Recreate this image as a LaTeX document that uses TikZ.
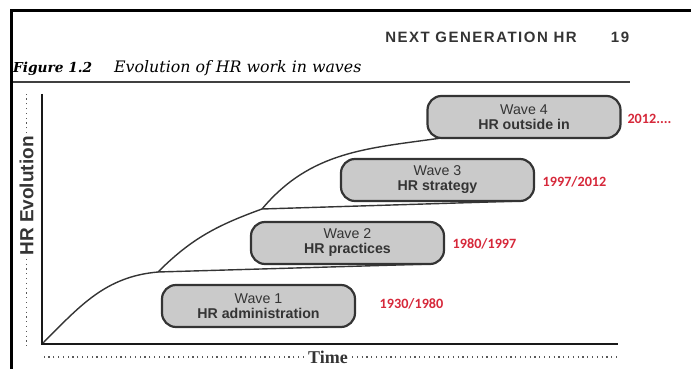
\documentclass[tikz,border=0pt]{standalone}
\usepackage{fontspec}
\setmainfont{Liberation Sans}
\newfontfamily\captfont{DejaVu Serif}
\newfontfamily\timefont{Liberation Serif}
\newfontfamily\datefont{Carlito}
\newfontfamily\headfont{Liberation Sans}[LetterSpace=10]
\usetikzlibrary{positioning,backgrounds}

\definecolor{boxGray}{RGB}{202,202,202}
\definecolor{inkGray}{RGB}{52,52,52}
\definecolor{dateRed}{RGB}{214,40,58}

\tikzstyle{waveNode} = [rectangle, rounded corners=14pt, minimum width=193pt, minimum height=42pt, inner sep=0pt, outer sep=0pt, text centered, align=center, draw=inkGray, line width=2.2pt, fill=boxGray, text=inkGray, font=\fontsize{14.2}{15}\selectfont]
\tikzstyle{dateNode} = [text=dateRed, font=\datefont\bfseries\fontsize{14.2}{15}\selectfont]
\tikzstyle{headNode} = [inner sep=0pt, text=inkGray, font=\headfont\bfseries\fontsize{15}{16}\selectfont]
\tikzstyle{curve} = [line width=1.4pt, draw=inkGray]
\tikzstyle{axis} = [line width=2.6pt, draw=black!90]
\tikzstyle{dotLine} = [line width=1.2pt, draw=black!65, dash pattern=on 1.2pt off 3.6pt]

\begin{document}
\begin{tikzpicture}[x=1pt, y=1pt, node distance=63pt]
    \useasboundingbox (0,0) rectangle (691,369);
    \draw [line width=3pt] (11.5,0) |- (691,358);

    \node (header)[headNode] at (481,332) {NEXT GENERATION HR};
    \node (pagenum)[headNode] at (620,332) {19};
    \node (figlabel)[anchor=base west, inner sep=0pt, font=\captfont\bfseries\itshape\fontsize{13.7}{15}\selectfont] at (13,296) {Figure 1.2};
    \node (figtitle)[anchor=base west, inner sep=0pt, font=\captfont\itshape\fontsize{15.8}{17}\selectfont] at (114,296) {Evolution of HR work in waves};
    \draw [line width=1.2pt, black!75] (13,287) -- (630,287);

    \coordinate (O) at (42,25);
    \coordinate (ytop) at (42,275);
    \coordinate (xend) at (618,25);
    \draw [axis] (ytop) -- (O) -- (xend);

    \node (evo)[rotate=90, inner sep=3pt, text=inkGray, font=\bfseries\fontsize{19}{20}\selectfont] at (26.5,173) {HR Evolution};
    \node (time)[inner sep=4pt, text=inkGray, font=\timefont\bfseries\fontsize{18}{20}\selectfont] at (328,12) {Time};
    \draw [dotLine] (evo.east) -- (evo.east |- ytop);
    \draw [dotLine] (evo.west) -- ([yshift=-3pt]evo.west |- O);
    \draw [dotLine] (time.west) -- (time.west -| O);
    \draw [dotLine] (time.east) -- (time.east -| xend);

    \node (wave1)[waveNode] at (258.5,63) {Wave 1\\\textbf{HR administration}};
    \node (wave2)[waveNode, above of=wave1, xshift=89pt] {Wave 2\\\textbf{HR practices}};
    \node (wave3)[waveNode, above of=wave2, xshift=90pt] {Wave 3\\\textbf{HR strategy}};
    \node (wave4)[waveNode, above of=wave3, xshift=86.5pt] {Wave 4\\\textbf{HR outside in}};

    \node (date1)[dateNode, right of=wave1, xshift=90pt, yshift=2pt] {1930/1980};
    \node (date2)[dateNode, right of=wave2, xshift=74pt, yshift=-1pt] {1980/1997};
    \node (date3)[dateNode, right of=wave3, xshift=74pt, yshift=-1.5pt] {1997/2012};
    \node (date4)[dateNode, right of=wave4, xshift=62.5pt, yshift=-1.5pt] {2012....};

    \coordinate (k1) at (158,97);
    \coordinate (k2) at (262,160);
    \begin{scope}[on background layer]
    \draw [curve] (O) to[out=45,in=185] (k1);
    \draw [curve] (k1) -- ([xshift=-12pt]wave2.south east);
    \draw [curve] (k1) to[out=45,in=200] (k2);
    \draw [curve] (k2) -- ([xshift=-12pt]wave3.south east);
    \draw [curve] (k2) to[out=50,in=188] ([xshift=14pt]wave4.south west);
    \end{scope}

\end{tikzpicture}
\end{document}
